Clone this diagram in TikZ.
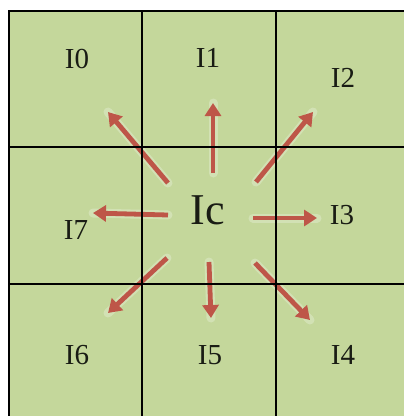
\documentclass[tikz,border=0pt]{standalone}
\usepackage{fontspec}
\setmainfont{Liberation Serif}
\usetikzlibrary{arrows.meta}
\definecolor{cellgreen}{RGB}{196,215,155}
\definecolor{arrowred}{RGB}{190,86,72}
\definecolor{txt}{RGB}{25,28,20}
\begin{document}
\begin{tikzpicture}[x=1pt,y=-1pt,
  cellfill/.style={fill=cellgreen},
  cellline/.style={draw=black,line width=1.8pt},
  lbl/.style={inner sep=0pt,text=txt,font=\fontsize{29}{32}\selectfont},
  biglbl/.style={inner sep=0pt,text=txt,font=\fontsize{44}{48}\selectfont},
  arr/.style={draw=arrowred,line width=4.8pt,-{Triangle[length=13pt,width=16pt]}},
  halo/.style={draw=white,opacity=0.25,line width=9pt,line cap=round}]
\useasboundingbox (0,0) rectangle (404,416);
\fill[white] (0,0) rectangle (404,416);
\begin{scope}
\clip (0,0) rectangle (404,416);
\foreach \x/\xx in {9/142,142/276,276/412}{
  \foreach \y/\yy in {11/147,147/284,284/424}{
    \fill[cellfill] (\x,\y) rectangle (\xx,\yy);
  }
}
\end{scope}
\node[lbl] (i0) at (77,59) {I0};
\node[lbl] (i1) at (208,58) {I1};
\node[lbl] (i2) at (343,78) {I2};
\node[lbl] (i7) at (76,230) {I7};
\node[biglbl] (ic) at (208,210) {Ic};
\node[lbl] (i3) at (342,215) {I3};
\node[lbl] (i6) at (77,355) {I6};
\node[lbl] (i5) at (210,355) {I5};
\node[lbl] (i4) at (343,355) {I4};
% arrow end points
\coordinate (s0) at (168,183); \coordinate (e0) at (108,112);
\coordinate (s1) at (213,173); \coordinate (e1) at (213,103);
\coordinate (s2) at (256,182); \coordinate (e2) at (313,112);
\coordinate (s7) at (168,215); \coordinate (e7) at (93,213);
\coordinate (s3) at (253,218); \coordinate (e3) at (317,218);
\coordinate (s6) at (167,258); \coordinate (e6) at (108,313);
\coordinate (s5) at (209,262); \coordinate (e5) at (211,318);
\coordinate (s4) at (255,263); \coordinate (e4) at (310,320);
\foreach \k in {0,1,2,7,3,6,5,4}{
  \draw[halo] (s\k) -- (e\k);
}
\foreach \k in {0,1,2,7,3,6,5,4}{
  \draw[arr] (s\k) -- (e\k);
}
\begin{scope}
\clip (0,0) rectangle (404,416);
\foreach \x/\xx in {9/142,142/276,276/412}{
  \foreach \y/\yy in {11/147,147/284,284/424}{
    \draw[cellline] (\x,\y) rectangle (\xx,\yy);
  }
}
\end{scope}
\end{tikzpicture}
\end{document}
